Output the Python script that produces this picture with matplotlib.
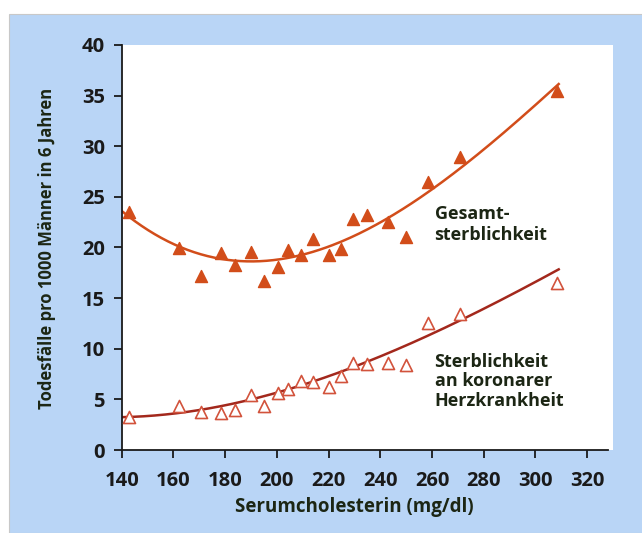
import matplotlib.pyplot as plt
import numpy as np
from matplotlib.patches import Rectangle

# serum cholesterol (mg/dl) for each group
chol = [143, 162, 170.5, 178.3, 184, 190, 195, 200.3, 204.5, 209.5, 213.8,
        220, 225, 229.5, 235, 243, 250, 258.6, 271, 308.2]

# deaths per 1000 men in 6 years
total_mort = [23.5, 19.95, 17.2, 19.5, 18.3, 19.6, 16.7, 18.1, 19.8, 19.3, 20.85,
              19.3, 19.9, 22.8, 23.2, 22.5, 21.0, 26.5, 28.9, 35.5]
chd_mort = [3.3, 4.3, 3.8, 3.7, 3.95, 5.45, 4.3, 5.6, 6.0, 6.8, 6.7,
            6.2, 7.3, 8.6, 8.5, 8.6, 8.4, 12.5, 13.4, 16.5]

# fitted curves
curve_x = [140, 160, 180, 190, 200, 220, 240, 260, 280, 300, 309]
curve_total = [23.6, 20.35, 18.85, 18.6, 18.85, 20.0, 22.4, 25.9, 29.7, 33.9, 36.25]
curve_chd = [3.2, 3.7, 4.4, 4.95, 5.6, 7.3, 9.3, 11.5, 13.9, 16.6, 17.85]

xticks = [140, 160, 180, 200, 220, 240, 260, 280, 300, 320]
yticks = [0, 5, 10, 15, 20, 25, 30, 35, 40]

orange = '#d24d1a'
darkred = '#a3281c'
textcol = '#1c2614'
blue = '#b9d5f6'

plt.rcParams['font.family'] = ['Open Sans', 'DejaVu Sans']

fig = plt.figure(figsize=(6.42, 5.33), dpi=100, facecolor='white')
bg = Rectangle((9 / 642, 0), 1, 1 - 14 / 533, transform=fig.transFigure,
               facecolor=blue, edgecolor='#c8c8c8', lw=0.8, zorder=-10)
fig.patches.append(bg)

ax = fig.add_axes([121.7 / 642, 83 / 533, (613 - 121.7) / 642, 405 / 533])
ax.set_zorder(1)
ax.set_facecolor('white')

# smooth the read curve points with a cubic fit
xs = np.linspace(curve_x[0], curve_x[-1], 200)
ax.plot(xs, np.polyval(np.polyfit(curve_x, curve_total, 3), xs), color=orange, lw=1.8, zorder=2)
ax.plot(xs, np.polyval(np.polyfit(curve_x, curve_chd, 3), xs), color=darkred, lw=1.8, zorder=2)

ax.scatter(chol, total_mort, marker='^', s=75, color=orange, edgecolors=orange, zorder=3)
ax.scatter(chol, chd_mort, marker='^', s=75, facecolors='white', edgecolors='#d2533c',
           linewidths=1.2, zorder=3)

ax.text(261, 24.2, 'Gesamt-\nsterblichkeit', fontsize=13, fontweight='bold',
        color=textcol, va='top', ha='left', linespacing=1.25)
ax.text(261, 9.6, 'Sterblichkeit\nan koronarer\nHerzkrankheit', fontsize=13,
        fontweight='bold', color=textcol, va='top', ha='left', linespacing=1.1)

ax.set_xlim(140, 330)
ax.set_ylim(0, 40)
ax.set_xticks(xticks)
ax.set_yticks(yticks)
for s in ['top', 'right']:
    ax.spines[s].set_visible(False)
for s in ['left', 'bottom']:
    ax.spines[s].set_color('#1a1a1a')
    ax.spines[s].set_linewidth(1.3)
ax.spines['bottom'].set_bounds(140, 328)
ax.tick_params(direction='out', length=6, width=1.3, labelsize=14.5, colors='#1a1a1a')
ax.tick_params(axis='x', pad=9)
ax.tick_params(axis='y', pad=6)
for lab in ax.get_xticklabels() + ax.get_yticklabels():
    lab.set_fontweight('bold')

ax.set_xlabel('Serumcholesterin (mg/dl)', fontsize=13.5, fontweight='bold',
              color=textcol)
ax.xaxis.set_label_coords((354 - 121.7) / (613 - 121.7), -47 / 405)
ax.set_ylabel('Todesfälle pro 1000 Männer in 6 Jahren', fontsize=12,
              fontweight='bold', color=textcol)
ax.yaxis.set_label_coords(-66 / 491.3, (450 - 248) / 405)

fig.savefig('out.png', dpi=100, facecolor=fig.get_facecolor())
